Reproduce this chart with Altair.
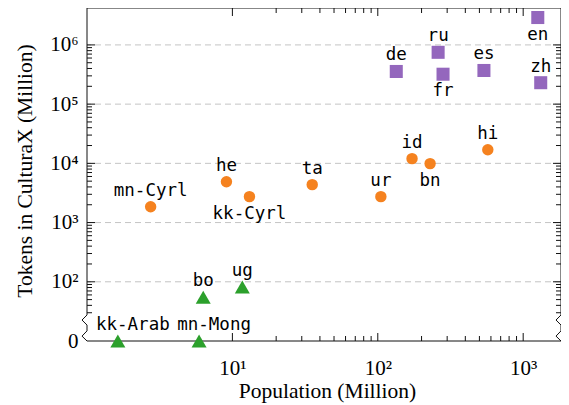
import altair as alt
import pandas as pd

# ---- data ----
langs = ["en", "ru", "de", "fr", "es", "zh",
         "mn-Cyrl", "he", "kk-Cyrl", "ta", "ur", "id", "bn", "hi",
         "kk-Arab", "mn-Mong", "bo", "ug"]
population = [1260, 260, 134, 281, 537, 1320,
              2.74, 9.1, 13.1, 35.4, 105, 172, 229, 571,
              1.63, 5.9, 6.3, 11.7]
tokens = [2.9e6, 7.5e5, 3.56e5, 3.2e5, 3.7e5, 2.3e5,
          1850, 4900, 2740, 4370, 2740, 12000, 9900, 17000,
          0, 0, 55, 82]
groups = ["high"] * 6 + ["mid"] * 8 + ["low"] * 4
label_side = ["below", "above", "above", "below", "above", "above",
              "above", "above", "below", "above", "above", "above", "below", "above",
              "above_right", "above_right", "above", "above"]

x_major = [10, 100, 1000]
x_minor = [20, 30, 40, 50, 60, 70, 80, 90, 200, 300, 400, 500, 600, 700, 800, 900]
y_labels_at = [10, 100, 1e3, 1e4, 1e5, 1e6]
y_major = [100, 1e3, 1e4, 1e5, 1e6]
y_minor = [30, 40, 50, 60, 70, 80, 90] + [m * 10 ** k for k in range(2, 6) for m in range(2, 10)]

ZERO_AT = 10            # where a value of 0 is drawn (below the axis break)
X_DOMAIN = [1, 1820]
Y_DOMAIN = [10, 4.2e6]
BREAK_Y = [27.5, 22.6, 18.6, 14.8, 12.1]   # axis-break zigzag levels
BREAK_FACTOR = 1.0824                     # zigzag depth (in x, log space)

W, H = 474, 333
COLORS = {"high": "#9467bd", "mid": "#f5821f", "low": "#2ca02c"}
SHAPES = {"high": ("square", 170), "mid": ("circle", 130), "low": ("triangle-up", 225)}

df = pd.DataFrame({"lang": langs, "pop": population, "tok": tokens,
                   "group": groups, "side": label_side})
df["y"] = df["tok"].where(df["tok"] > 0, ZERO_AT)

xs = alt.Scale(type="log", domain=X_DOMAIN, nice=False)
ys = alt.Scale(type="log", domain=Y_DOMAIN, nice=False)

sup = "['⁰','¹','²','³','⁴','⁵','⁶']"
x_axis = alt.Axis(values=x_major, labelExpr="'10' + " + sup + "[round(log(datum.value)/LN10)]",
                  ticks=False, domain=False, grid=False, labelFlush=False, labelOverlap=False,
                  labelFont="Liberation Serif", labelFontSize=21, labelColor="black",
                  labelBaseline="alphabetic", labelPadding=33,
                  title="Population (Million)", titleFont="Liberation Serif",
                  titleFontSize=21.5, titleFontWeight="normal", titleColor="black",
                  titleX=240, titleY=56, titleBaseline="alphabetic", titleAlign="center")
y_axis = alt.Axis(values=y_labels_at,
                  labelExpr="datum.value <= 10 ? '0' : '10' + " + sup + "[round(log(datum.value)/LN10)]",
                  ticks=False, domain=False, grid=False, labelFlush=False, labelOverlap=False,
                  labelFont="Liberation Serif", labelFontSize=21, labelColor="black",
                  labelPadding=9,
                  title="Tokens in CulturaX (Million)", titleFont="Liberation Serif",
                  titleFontSize=21.5, titleFontWeight="normal", titleColor="black",
                  titleX=-56, titleY=H / 2 - 4, titleBaseline="alphabetic",
                  titleAlign="center", titleAngle=270)

X = lambda f: alt.X(f, scale=xs, axis=x_axis)
Y = lambda f: alt.Y(f, scale=ys, axis=y_axis)

# ---- grid ----
grid = alt.Chart(pd.DataFrame({"v": y_major})).mark_rule(
    color="#c4c4c4", strokeDash=[6, 4], strokeWidth=1
).encode(y=Y("v:Q"))

# ---- frame with axis break ----
xl, xr = X_DOMAIN
xl2, xr2 = xl / BREAK_FACTOR, xr / BREAK_FACTOR
yt = Y_DOMAIN[1]
b = BREAK_Y
rows = []
def seg(name, pts):
    for i, (px, py) in enumerate(pts):
        rows.append({"seg": name, "i": i, "x": px, "y": py})
seg("left", [(xl, yt), (xl, b[0]), (xl2, b[1]), (xl, b[2]), (xl, b[3]), (xl2, b[4]), (xl, ZERO_AT)])
seg("right", [(xr, yt), (xr, b[0]), (xr2, b[1]), (xr, b[2]), (xr, b[3]), (xr2, b[4]), (xr, ZERO_AT)])
seg("bottom", [(xl, ZERO_AT), (xr, ZERO_AT)])
seg("top", [(xl, yt), (xr, yt)])
frame = alt.Chart(pd.DataFrame(rows)).mark_line(color="#111111", strokeWidth=1).encode(
    x=X("x:Q"), y=Y("y:Q"), detail="seg:N", order="i:Q")

# ---- inward ticks ----
def xticks(vals, ln):
    d = pd.DataFrame({"v": vals})
    bot = alt.Chart(d).mark_rule(color="#111111").encode(
        x=X("v:Q"), y=alt.value(H), y2=alt.value(H - ln))
    top = alt.Chart(d).mark_rule(color="#111111").encode(
        x=X("v:Q"), y=alt.value(0), y2=alt.value(ln))
    return [bot, top]

def yticks(vals, ln):
    d = pd.DataFrame({"v": vals})
    lft = alt.Chart(d).mark_rule(color="#111111").encode(
        y=Y("v:Q"), x=alt.value(0), x2=alt.value(ln))
    rgt = alt.Chart(d).mark_rule(color="#111111").encode(
        y=Y("v:Q"), x=alt.value(W), x2=alt.value(W - ln))
    return [lft, rgt]

ticks = xticks(x_major, 8) + xticks(x_minor, 5) + yticks(y_major, 8) + yticks(y_minor, 5)

# ---- points ----
points = []
for g in ["high", "mid", "low"]:
    shape, size = SHAPES[g]
    points.append(
        alt.Chart(df[df["group"] == g]).mark_point(
            shape=shape, size=size, filled=True, opacity=1, color=COLORS[g], strokeWidth=0
        ).encode(x=X("pop:Q"), y=Y("y:Q"))
    )

# ---- labels ----
label_style = dict(font="DejaVu Sans Mono", fontSize=17.5, color="black", baseline="alphabetic")
offsets = {"above": (0, -11), "below": (0, 22), "above_right": (15, -11)}
labels = []
for side, (dx, dy) in offsets.items():
    labels.append(
        alt.Chart(df[df["side"] == side]).mark_text(dx=dx, dy=dy, align="center", **label_style).encode(
            x=X("pop:Q"), y=Y("y:Q"), text="lang:N")
    )

chart = alt.layer(grid, frame, *ticks, *points, *labels).properties(
    width=W, height=H,
    autosize=alt.AutoSizeParams(type="none"),
    padding={"left": 79, "top": 0, "right": 0, "bottom": 63},
).configure_view(strokeWidth=0)

chart.save("out.html", embed_options={"renderer": "svg", "actions": False})
